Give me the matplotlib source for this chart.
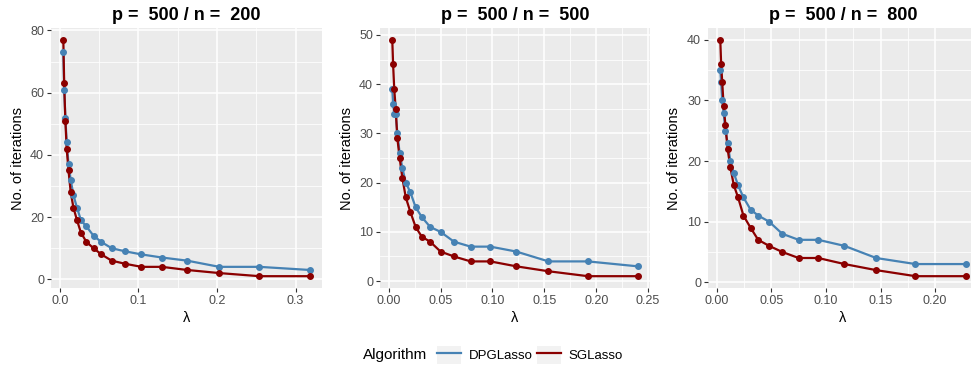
import matplotlib
matplotlib.use("Agg")
import matplotlib.pyplot as plt
from matplotlib.lines import Line2D
from matplotlib.patches import Rectangle
from matplotlib.legend_handler import HandlerTuple
from matplotlib.ticker import FixedLocator

plt.rcParams["font.family"] = ["Liberation Sans", "DejaVu Sans"]

# p = 500 / n = 200
lam_200 = [0.318, 0.254, 0.203, 0.162, 0.130, 0.104, 0.083, 0.066, 0.053, 0.043,
           0.034, 0.027, 0.022, 0.0175, 0.014, 0.0112, 0.0089, 0.0072, 0.0057, 0.0046]
dpg_200 = [3, 4, 4, 6, 7, 8, 9, 10, 12, 14, 17, 19, 23, 27, 32, 37, 44, 52, 61, 73]
sg_200 = [1, 1, 2, 3, 4, 4, 5, 6, 8, 10, 12, 15, 19, 23, 28, 35, 42, 51, 63, 77]

# p = 500 / n = 500
lam_500 = [0.240, 0.192, 0.154, 0.123, 0.098, 0.079, 0.063, 0.050, 0.040, 0.032,
           0.026, 0.021, 0.0165, 0.0132, 0.0106, 0.0084, 0.0068, 0.0054, 0.0043, 0.0035]
dpg_500 = [3, 4, 4, 6, 7, 7, 8, 10, 11, 13, 15, 18, 20, 23, 26, 30, 34, 34, 36, 39]
sg_500 = [1, 1, 2, 3, 4, 4, 5, 6, 8, 9, 11, 14, 17, 21, 25, 29, 35, 39, 44, 49]

# p = 500 / n = 800
lam_800 = [0.228, 0.182, 0.146, 0.117, 0.093, 0.075, 0.060, 0.048, 0.038, 0.031,
           0.0245, 0.0196, 0.0157, 0.0125, 0.010, 0.008, 0.0064, 0.0051, 0.0041, 0.0033]
dpg_800 = [3, 3, 4, 6, 7, 7, 8, 10, 11, 12, 14, 16, 18, 20, 23, 25, 28, 30, 33, 35]
sg_800 = [1, 1, 2, 3, 4, 4, 5, 6, 7, 9, 11, 14, 16, 19, 22, 26, 29, 33, 36, 40]

titles = ["p =  500 / n =  200", "p =  500 / n =  500", "p =  500 / n =  800"]
x_breaks = [[0.0, 0.1, 0.2, 0.3], [0.0, 0.05, 0.10, 0.15, 0.20, 0.25], [0.0, 0.05, 0.10, 0.15, 0.20]]
x_labels = [["0.0", "0.1", "0.2", "0.3"],
            ["0.00", "0.05", "0.10", "0.15", "0.20", "0.25"],
            ["0.00", "0.05", "0.10", "0.15", "0.20"]]
y_breaks = [[0, 20, 40, 60, 80], [0, 10, 20, 30, 40, 50], [0, 10, 20, 30, 40]]

BLUE = "#4682B4"
RED = "#8B0000"
W, H = 971, 370

fig = plt.figure(figsize=(W / 100, H / 100), dpi=100)

# panel boxes in pixels: left, right
boxes = [(51, 322), (380, 650), (708, 978)]
top, bottom = 28, 288

datos = [(lam_200, dpg_200, sg_200), (lam_500, dpg_500, sg_500), (lam_800, dpg_800, sg_800)]

for i, (lam, dpg, sg) in enumerate(datos):
    l, r = boxes[i]
    ax = fig.add_axes([l / W, 1 - bottom / H, (r - l) / W, (bottom - top) / H])
    ax.set_facecolor("#EBEBEB")
    ax.plot(lam, dpg, color=BLUE, lw=1.6, zorder=3)
    ax.plot(lam, sg, color=RED, lw=1.6, zorder=3)
    ax.plot(lam, dpg, "o", color=BLUE, ms=4, zorder=4)
    ax.plot(lam, sg, "o", color=RED, ms=4, zorder=4)

    allx = lam
    ally = dpg + sg
    xr = max(allx) - min(allx)
    yr = max(ally) - min(ally)
    ax.set_xlim(min(allx) - 0.05 * xr, max(allx) + 0.05 * xr)
    ax.set_ylim(min(ally) - 0.05 * yr, max(ally) + 0.05 * yr)

    xb = x_breaks[i]
    yb = y_breaks[i]
    ax.set_xticks(xb)
    ax.set_xticklabels(x_labels[i])
    ax.set_yticks(yb)
    ax.set_yticklabels([str(v) for v in yb])
    ax.xaxis.set_minor_locator(FixedLocator([(a + b) / 2 for a, b in zip(xb[:-1], xb[1:])]))
    ax.yaxis.set_minor_locator(FixedLocator([(a + b) / 2 for a, b in zip(yb[:-1], yb[1:])]))
    ax.grid(which="major", color="white", lw=1.1, zorder=1)
    ax.grid(which="minor", color="white", lw=0.55, zorder=1)
    ax.set_axisbelow(True)
    ax.tick_params(which="major", length=3, width=0.8, color="#333333",
                   labelsize=9, labelcolor="#4D4D4D", pad=2)
    ax.tick_params(which="minor", length=0)
    for s in ax.spines.values():
        s.set_visible(False)

    ax.set_title(titles[i], fontsize=13, fontweight="bold", pad=6)
    ax.set_xlabel("λ", fontsize=10.5, labelpad=3)
    ax.set_ylabel("No. of iterations", fontsize=10.5, labelpad=4)

# leyenda
fig.text(363 / W, 1 - 355 / H, "Algorithm", fontsize=11, ha="left", va="center")
handles = [
    (Rectangle((0, 0), 1, 1, facecolor="#F2F2F2", edgecolor="none"), Line2D([], [], color=BLUE, lw=1.6)),
    (Rectangle((0, 0), 1, 1, facecolor="#F2F2F2", edgecolor="none"), Line2D([], [], color=RED, lw=1.6)),
]
fig.legend(handles, ["DPGLasso", "SGLasso"], loc="center left",
           bbox_to_anchor=(437 / W, 1 - 355 / H), ncol=2, frameon=False,
           fontsize=9.5, handlelength=1.8, handleheight=1.7, handletextpad=0.6,
           columnspacing=0.35, borderpad=0, borderaxespad=0,
           handler_map={tuple: HandlerTuple(ndivide=1, pad=0)})

plt.savefig("out.png", dpi=100)
